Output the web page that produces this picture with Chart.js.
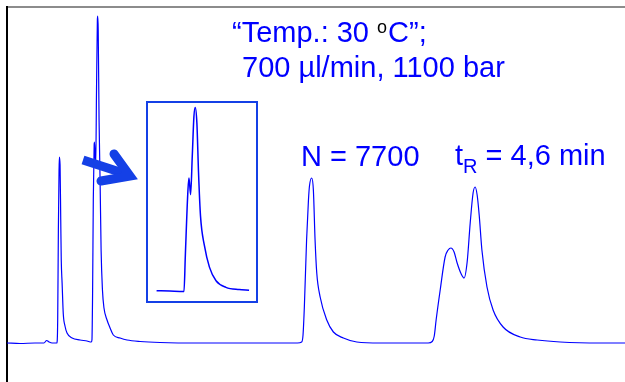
<!DOCTYPE html>
<html>
<head>
<meta charset="utf-8">
<script src="https://cdn.jsdelivr.net/npm/chart.js@4/dist/chart.umd.min.js"></script>
<style>
  body { margin: 0; background: #fff; }
  #wrap { position: relative; width: 625px; height: 382px; }
  #inset { position: absolute; left: 146px; top: 101px; width: 112px; height: 202px;
           border: 2px solid #1440e6; box-sizing: border-box; background: #fff; }
</style>
</head>
<body>
<div id="wrap">
  <canvas id="myChart" width="625" height="382"></canvas>
  <div id="inset"><canvas id="insetChart" width="108" height="198"></canvas></div>
</div>
<script>
// chromatogram, time in s, signal in mAU
const mainTime = [0, 7.7, 16.5, 21.8, 23.4, 24.8, 26.6, 29.4, 29.9, 30.3, 30.7, 30.9, 31.3, 31.7, 32.0, 32.5, 33.2, 34.2, 35.4, 38.4, 43.1, 47.2, 49.7,
  50.1, 50.5, 50.9, 51.4, 51.6, 52.3, 52.8, 53.3, 53.5, 53.8, 54.3, 54.9, 55.5, 56.3, 57.2, 59.0, 60.8, 62.7, 66.7, 70.8, 78.5, 90.3, 113.9, 140,
  171.3, 173.8, 174.6, 175.4, 176.7, 177.8, 178.4, 179.7, 180.7, 181.7, 182.7, 184.7, 188.6, 192.5, 198.4, 206.3, 220.1,
  248.4, 250.8, 252.0, 253.1, 255.5, 258.4, 260.2, 261.8, 263.7, 265.5, 267.9, 269.6, 271.4, 273.2, 274.9, 276.1, 277.3, 278.5, 280.1, 283.1, 286.7,
  292.6, 302.7, 312.7, 326.3, 349.9, 364.5];
const mainSignal = [0, -0.5, 0, 0, 2.5, 1, 0, 0, 23, 113, 173, 186, 178, 123, 83, 60, 29, 17, 10, 5, 3, 2, 1,
  3, 53, 143, 198, 201, 175, 253, 323, 327, 313, 223, 163, 93, 53, 35, 23, 15, 8, 5, 3, 1.5, 0.5, 0, 0,
  0, 1, 8, 37, 103, 143, 157, 165, 153, 103, 70, 46, 23, 11, 5, 1, 0,
  0, 1.5, 7, 23, 53, 86, 93, 95, 91, 80, 69, 65, 81, 120, 150, 156, 148, 128, 93, 56, 33,
  16, 6, 3, 1, 0, 0];

// inset: zoom on the second peak, signal in % of max
const insetTime = [41.8, 45.8, 50.1, 50.5, 51.3, 51.6, 52.1, 52.6, 53.1, 53.5, 54.0, 54.5, 55.1, 56.3, 57.8, 59.8, 62.8, 66.8, 69.8];
const insetSignal = [0.2, 0, -0.2, 19.1, 55.1, 61.5, 52.4, 73.1, 94.8, 99.8, 91.4, 64.3, 40.7, 24.5, 13.0, 5.6, 2.0, 0.8, 0.5];

const blue = "#0000ff";
const font = "'Liberation Sans', Arial, sans-serif";

const textPlugin = {
  id: "notes",
  afterDraw(chart) {
    const c = chart.ctx;
    c.save();
    c.textBaseline = "alphabetic";
    c.fillStyle = blue;
    c.font = "29px " + font;
    let x = 232;
    let s = "\u201CTemp.: 30 ";
    c.fillText(s, x, 42);
    x += c.measureText(s).width;
    c.fillStyle = "#000";
    c.font = "18px " + font;
    c.fillText("o", x, 33);
    x += c.measureText("o").width + 1;
    c.fillStyle = blue;
    c.font = "29px " + font;
    c.fillText("C\u201D;", x, 42);
    c.fillText("700 \u00B5l/min, 1100 bar", 242, 77);
    c.fillText("N = 7700", 301, 166);

    x = 455;
    c.fillText("t", x, 165);
    x += c.measureText("t").width;
    c.font = "20px " + font;
    c.fillText("R", x, 173);
    x += c.measureText("R").width;
    c.font = "29px " + font;
    c.fillText(" = 4,6 min", x, 165);

    // arrow: shaft + chevron head
    c.strokeStyle = "#1440e6";
    c.lineWidth = 9;
    c.lineCap = "butt";
    c.beginPath();
    c.moveTo(83, 160);
    c.lineTo(126, 174);
    c.stroke();
    c.lineJoin = "miter";
    c.lineCap = "round";
    c.beginPath();
    c.moveTo(114, 154);
    c.lineTo(130, 176);
    c.lineTo(101, 181);
    c.stroke();
    c.restore();
  }
};

new Chart(document.getElementById("myChart"), {
  type: "line",
  data: {
    datasets: [{
      data: mainTime.map((t, i) => ({ x: t, y: mainSignal[i] })),
      borderColor: blue,
      borderWidth: 1.2,
      pointRadius: 0,
      cubicInterpolationMode: "monotone",
      fill: false
    }]
  },
  options: {
    responsive: false,
    animation: false,
    layout: { padding: { left: 7, top: 7, right: 0, bottom: 0 } },
    plugins: { legend: { display: false }, tooltip: { enabled: false } },
    scales: {
      x: { type: "linear", min: 0, max: 364.5, display: false },
      xTop: {
        type: "linear", position: "top", min: 0, max: 364.5,
        ticks: { display: false },
        grid: { display: false, drawTicks: false },
        border: { color: "#8c8c8c", width: 2 }
      },
      y: {
        min: -39, max: 336,
        ticks: { display: false },
        grid: { display: false, drawTicks: false },
        border: { color: "#000", width: 2 }
      }
    }
  },
  plugins: [textPlugin]
});

new Chart(document.getElementById("insetChart"), {
  type: "line",
  data: {
    datasets: [{
      data: insetTime.map((t, i) => ({ x: t, y: insetSignal[i] })),
      borderColor: blue,
      borderWidth: 1.5,
      pointRadius: 0,
      cubicInterpolationMode: "monotone",
      fill: false
    }]
  },
  options: {
    responsive: false,
    animation: false,
    plugins: { legend: { display: false }, tooltip: { enabled: false } },
    scales: {
      x: { type: "linear", min: 39.2, max: 71.9, display: false },
      y: { min: -5.4, max: 102.2, display: false }
    }
  }
});
</script>
</body>
</html>
